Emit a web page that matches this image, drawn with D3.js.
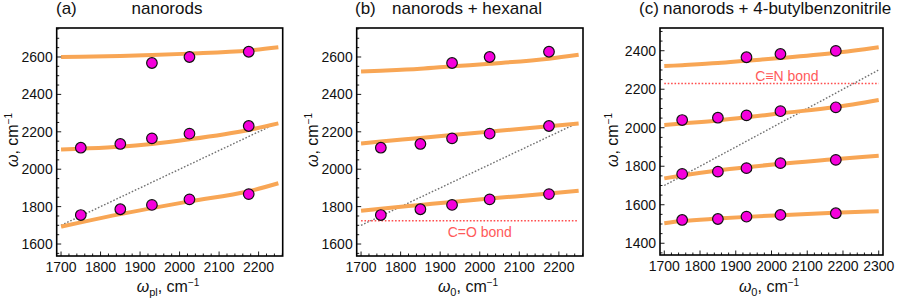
<!DOCTYPE html>
<html><head><meta charset="utf-8">
<script src="https://cdn.jsdelivr.net/npm/d3@7"></script>
<style>
html,body{margin:0;padding:0;background:#fff;}
svg{display:block;font-family:"Liberation Sans",Arial,sans-serif;}
</style></head>
<body><svg id="chart" width="899" height="299"></svg>
<script>
// ---------- data ----------
const pointX = [1750, 1850, 1930, 2025, 2175];
// panel (a) nanorods
const aUpper = [null, null, 2568, 2600, 2628];
const aMiddle = [2115, 2135, 2165, 2190, 2231];
const aLower = [1755, 1786, 1809, 1839, 1867];
// panel (b) nanorods + hexanal
const bUpper = [null, null, 2568, 2600, 2628];
const bMiddle = [2115, 2135, 2165, 2190, 2231];
const bLower = [1755, 1786, 1809, 1839, 1867];
// panel (c) nanorods + 4-butylbenzonitrile
const cPointX = [1750, 1850, 1930, 2025, 2180];
const cBranch1 = [null, null, 2366, 2383, 2399];
const cBranch2 = [2040, 2052, 2064, 2086, 2106];
const cBranch3 = [1760, 1772, 1790, 1816, 1833];
const cBranch4 = [1521, 1526, 1538, 1547, 1556];

// model curves
const curveXab = [1700, 1750, 1850, 1930, 2025, 2175, 2250];
const aCurveTop = [2600, 2601, 2605, 2610, 2618, 2635, 2652];
const aCurveMid = [2106, 2110, 2120, 2135, 2160, 2210, 2245];
const aCurveLow = [1693, 1716, 1760, 1792, 1828, 1882, 1925];
const bCurveTop = [2523, 2527, 2537, 2550, 2564, 2591, 2612];
const bCurveMid = [2138, 2148, 2167, 2183, 2201, 2230, 2245];
const bCurveLow = [1778, 1789, 1809, 1825, 1843, 1870, 1885];
const curveXc = [1700, 1750, 1850, 1930, 2025, 2175, 2300];
const cCurve1 = [2320, 2325, 2336, 2348, 2362, 2388, 2418];
const cCurve2 = [2014, 2022, 2038, 2054, 2075, 2106, 2144];
const cCurve3 = [1737, 1752, 1778, 1795, 1813, 1836, 1855];
const cCurve4 = [1504, 1515, 1528, 1537, 1546, 1558, 1566];

// reference lines
const diagAB = [1700, 2250];
const diagC = [1700, 2300];
const coBond = 1725;
const cnBond = 2230;

// ticks
const xTicksAB = [1700, 1800, 1900, 2000, 2100, 2200];
const xTicksC = [1700, 1800, 1900, 2000, 2100, 2200, 2300];
const yTicksAB = [1600, 1800, 2000, 2200, 2400, 2600];
const yTicksC = [1400, 1600, 1800, 2000, 2200, 2400];

const titles = ["nanorods", "nanorods + hexanal", "nanorods + 4-butylbenzonitrile"];
const letters = ["(a)", "(b)", "(c)"];
const xSubs = ["pl", "0", "0"];

// ---------- drawing ----------
const svg = d3.select("#chart");
const ORANGE = "#f8a655", MAGENTA = "#f500dc";

const panels = [
  {frame:[56.7, 28, 282.7, 256], xd:[1689, 2261], yd:[1536, 2755], xt:xTicksAB, yt:yTicksAB, xMinor:20, yMinor:50,
   px:pointX, pts:[aUpper, aMiddle, aLower], cx:curveXab, curves:[aCurveTop, aCurveMid, aCurveLow], diag:diagAB,
   letterX:56, titleX:167, titleAnchor:"middle", ylabX:18, xlabX:168},
  {frame:[356.7, 28, 583, 256], xd:[1689, 2261], yd:[1536, 2755], xt:xTicksAB, yt:yTicksAB, xMinor:20, yMinor:50,
   px:pointX, pts:[bUpper, bMiddle, bLower], cx:curveXab, curves:[bCurveTop, bCurveMid, bCurveLow], diag:diagAB,
   bond:{y:coBond, label:"C=O bond", lx:2000, ly:1662},
   letterX:355, titleX:467, titleAnchor:"middle", ylabX:318, xlabX:468},
  {frame:[660, 28, 883, 255], xd:[1688, 2312], yd:[1339, 2518], xt:xTicksC, yt:yTicksC, xMinor:20, yMinor:50,
   px:cPointX, pts:[cBranch1, cBranch2, cBranch3, cBranch4], cx:curveXc, curves:[cCurve1, cCurve2, cCurve3, cCurve4], diag:diagC,
   bond:{y:cnBond, label:"C\u2261N bond", lx:2043, ly:2270},
   letterX:639, titleX:663, titleAnchor:"start", ylabX:618, xlabX:769}
];

panels.forEach((p, i) => {
  const [L, T, R, B] = p.frame;
  const x = d3.scaleLinear().domain(p.xd).range([L, R]);
  const y = d3.scaleLinear().domain(p.yd).range([B, T]);
  const g = svg.append("g");
  const clipId = "clip" + i;
  svg.append("clipPath").attr("id", clipId).append("rect").attr("x", L).attr("y", T).attr("width", R - L).attr("height", B - T);
  const plot = g.append("g").attr("clip-path", `url(#${clipId})`);

  // diagonal
  plot.append("line").attr("x1", x(p.diag[0])).attr("y1", y(p.diag[0])).attr("x2", x(p.diag[1])).attr("y2", y(p.diag[1]))
    .attr("stroke", "#707070").attr("stroke-width", 1.4).attr("stroke-dasharray", "1.6,1.8");

  // bond line
  if (p.bond) {
    plot.append("line").attr("x1", x(p.diag[0])).attr("x2", x(p.diag[1])).attr("y1", y(p.bond.y)).attr("y2", y(p.bond.y))
      .attr("stroke", "#ff4d4d").attr("stroke-width", 1.5).attr("stroke-dasharray", "1.6,1.8");
    g.append("text").attr("x", x(p.bond.lx)).attr("y", y(p.bond.ly)).attr("text-anchor", "middle").attr("dy", "0.35em")
      .attr("font-size", 14).attr("fill", "#ff5a5a").text(p.bond.label);
  }

  // curves
  const line = d3.line().x(d => x(d[0])).y(d => y(d[1])).curve(d3.curveMonotoneX);
  p.curves.forEach(c => {
    plot.append("path").datum(p.cx.map((v, k) => [v, c[k]])).attr("d", line)
      .attr("fill", "none").attr("stroke", ORANGE).attr("stroke-width", 4).attr("stroke-linecap", "butt");
  });

  // points
  p.pts.forEach(s => {
    const data = p.px.map((v, k) => [v, s[k]]).filter(d => d[1] != null);
    plot.selectAll(null).data(data).enter().append("circle")
      .attr("cx", d => x(d[0])).attr("cy", d => y(d[1])).attr("r", 5.3)
      .attr("fill", MAGENTA).attr("stroke", "#111").attr("stroke-width", 1.2);
  });

  // minor & major ticks
  const xmin = d3.range(Math.ceil(p.xd[0] / p.xMinor) * p.xMinor, p.xd[1], p.xMinor);
  const ymin = d3.range(Math.ceil(p.yd[0] / p.yMinor) * p.yMinor, p.yd[1], p.yMinor);
  g.selectAll(null).data(xmin).enter().append("line")
    .attr("x1", d => x(d)).attr("x2", d => x(d)).attr("y1", B).attr("y2", d => B - (p.xt.includes(d) ? 4.5 : 2.5))
    .attr("stroke", "#000").attr("stroke-width", 0.9);
  g.selectAll(null).data(ymin).enter().append("line")
    .attr("y1", d => y(d)).attr("y2", d => y(d)).attr("x1", L).attr("x2", d => L + (p.yt.includes(d) ? 4.5 : 2.5))
    .attr("stroke", "#000").attr("stroke-width", 0.9);

  // frame
  g.append("rect").attr("x", L).attr("y", T).attr("width", R - L).attr("height", B - T)
    .attr("fill", "none").attr("stroke", "#000").attr("stroke-width", 1.6);

  // tick labels
  g.selectAll(null).data(p.xt).enter().append("text")
    .attr("x", d => x(d)).attr("y", B + 16).attr("text-anchor", "middle").attr("font-size", 14).attr("fill", "#111").text(d => d);
  g.selectAll(null).data(p.yt).enter().append("text")
    .attr("x", L - 4).attr("y", d => y(d)).attr("dy", "0.35em").attr("text-anchor", "end").attr("font-size", 14).attr("fill", "#111").text(d => d);

  // titles
  g.append("text").attr("x", p.letterX).attr("y", 14).attr("font-size", 17).attr("fill", "#111").text(letters[i]);
  g.append("text").attr("x", p.titleX).attr("y", 14).attr("font-size", 17).attr("text-anchor", p.titleAnchor).attr("fill", "#111").text(titles[i]);

  // x label
  const xl = g.append("text").attr("x", p.xlabX).attr("y", 292).attr("text-anchor", "middle").attr("font-size", 16).attr("fill", "#111");
  xl.append("tspan").attr("font-style", "italic").text("\u03c9");
  xl.append("tspan").attr("font-size", 11).attr("dy", 4).text(xSubs[i]);
  xl.append("tspan").attr("dy", -4).text(", cm");
  xl.append("tspan").attr("font-size", 10).attr("dy", -6).text("\u22121");

  // y label
  const yl = g.append("text").attr("transform", `translate(${p.ylabX},140) rotate(-90)`).attr("text-anchor", "middle")
    .attr("font-size", 16).attr("fill", "#111");
  yl.append("tspan").attr("font-style", "italic").text("\u03c9");
  yl.append("tspan").text(", cm");
  yl.append("tspan").attr("font-size", 10).attr("dy", -6).text("\u22121");
});
</script></body></html>
